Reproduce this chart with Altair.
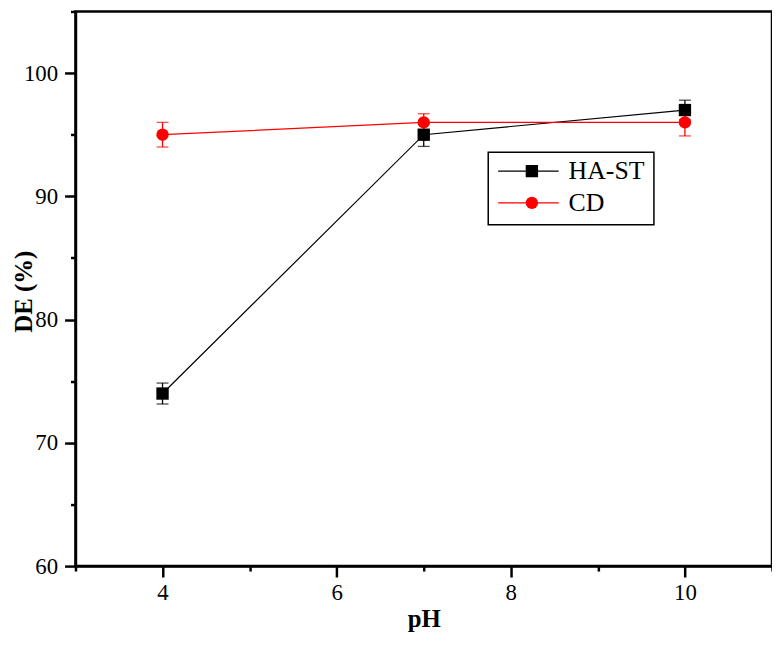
import altair as alt
import pandas as pd

# ---- data ----
ph = [4, 7, 10]
series_names = ["HA-ST", "CD"]
marker_keys = ["HA-ST marker", "CD marker"]
hast_de = [74.0, 95.0, 97.0]
hast_err = [0.85, 0.95, 0.8]
cd_de = [95.0, 96.0, 96.0]
cd_err = [1.0, 0.7, 1.1]
colors = ["#000000", "#ff0000"]
shapes = ["square", "circle"]
x_major = [4, 6, 8, 10]
x_minor = [3, 5, 7, 9, 11]
y_major = [60, 70, 80, 90, 100]
y_minor = [65, 75, 85, 95, 105]

rows = []
for name, key, vals, errs in [("HA-ST", marker_keys[0], hast_de, hast_err),
                              ("CD", marker_keys[1], cd_de, cd_err)]:
    for p, v, e in zip(ph, vals, errs):
        rows.append({"pH": p, "DE": v, "lo": v - e, "hi": v + e,
                     "series": name, "series2": key})
df = pd.DataFrame(rows)

FONT = "Liberation Serif, Times New Roman, serif"
xscale = alt.Scale(domain=[3, 11], nice=False, zero=False)
yscale = alt.Scale(domain=[60, 105], nice=False, zero=False)
cscale = alt.Scale(domain=series_names, range=colors)
fscale = alt.Scale(domain=marker_keys, range=colors)
sscale = alt.Scale(domain=marker_keys, range=shapes)

base = alt.Chart(df)

stroke_legend = alt.Legend(
    orient="none", legendX=416, legendY=142, title=None,
    symbolType="stroke", symbolSize=3721, symbolStrokeWidth=1.2,
    labelFont=FONT, labelFontSize=26, labelColor="black", labelOffset=9,
    padding=9, clipHeight=20, rowPadding=6,
    strokeColor="black",
)
shape_legend = alt.Legend(
    orient="none", legendX=438, legendY=142, title=None,
    symbolSize=155, symbolStrokeWidth=0,
    labelExpr="''", labelFontSize=26, labelOffset=9,
    padding=9, clipHeight=20, rowPadding=6,
)

line = base.mark_line(strokeWidth=1.2).encode(
    x=alt.X("pH:Q", scale=xscale,
            axis=alt.Axis(values=x_major, tickSize=11, title="pH", orient="bottom",
                          labelPadding=5, titlePadding=2)),
    y=alt.Y("DE:Q", scale=yscale,
            axis=alt.Axis(values=y_major, tickSize=11, title="DE (%)", orient="left",
                          labelPadding=7, titleX=-52, titleY=282, titleBaseline="middle")),
    color=alt.Color("series:N", scale=cscale, legend=stroke_legend),
)

err = base.mark_rule(strokeWidth=1.3).encode(
    x=alt.X("pH:Q", scale=xscale,
            axis=alt.Axis(values=x_minor, tickSize=5, labels=False, domain=False,
                          title=None, orient="bottom")),
    y=alt.Y("lo:Q", scale=yscale,
            axis=alt.Axis(values=y_minor, tickSize=5, labels=False, domain=False,
                          title=None, orient="left")),
    y2="hi:Q",
    color=alt.Color("series:N", scale=cscale, legend=None),
)

cap_lo = base.mark_tick(orient="horizontal", size=12, thickness=1.3).encode(
    x=alt.X("pH:Q", scale=xscale, axis=None),
    y=alt.Y("lo:Q", scale=yscale, axis=None),
    color=alt.Color("series:N", scale=cscale, legend=None),
)
cap_hi = base.mark_tick(orient="horizontal", size=12, thickness=1.3).encode(
    x=alt.X("pH:Q", scale=xscale, axis=None),
    y=alt.Y("hi:Q", scale=yscale, axis=None),
    color=alt.Color("series:N", scale=cscale, legend=None),
)

points = base.mark_point(filled=True, size=155, opacity=1, strokeWidth=0).encode(
    x=alt.X("pH:Q", scale=xscale, axis=None),
    y=alt.Y("DE:Q", scale=yscale, axis=None),
    fill=alt.Fill("series2:N", scale=fscale, legend=shape_legend),
    shape=alt.Shape("series2:N", scale=sscale, legend=shape_legend),
)

chart = alt.layer(line, err, cap_lo, cap_hi, points).resolve_axis(
    x="independent", y="independent"
).properties(
    width=702, height=559, autosize="none",
    padding={"left": 68, "top": 1, "right": 0, "bottom": 70},
).configure_axis(
    domainColor="black", domainWidth=2.5, tickColor="black", tickWidth=2.5,
    labelFont=FONT, labelFontSize=23, labelColor="black",
    titleFont=FONT, titleFontSize=25, titleFontWeight="bold", titleColor="black",
    grid=False,
).configure_view(stroke="black", strokeWidth=2.5).configure_legend(strokeWidth=1.5)

chart.save("out.html", embed_options={"renderer": "svg", "actions": False})
